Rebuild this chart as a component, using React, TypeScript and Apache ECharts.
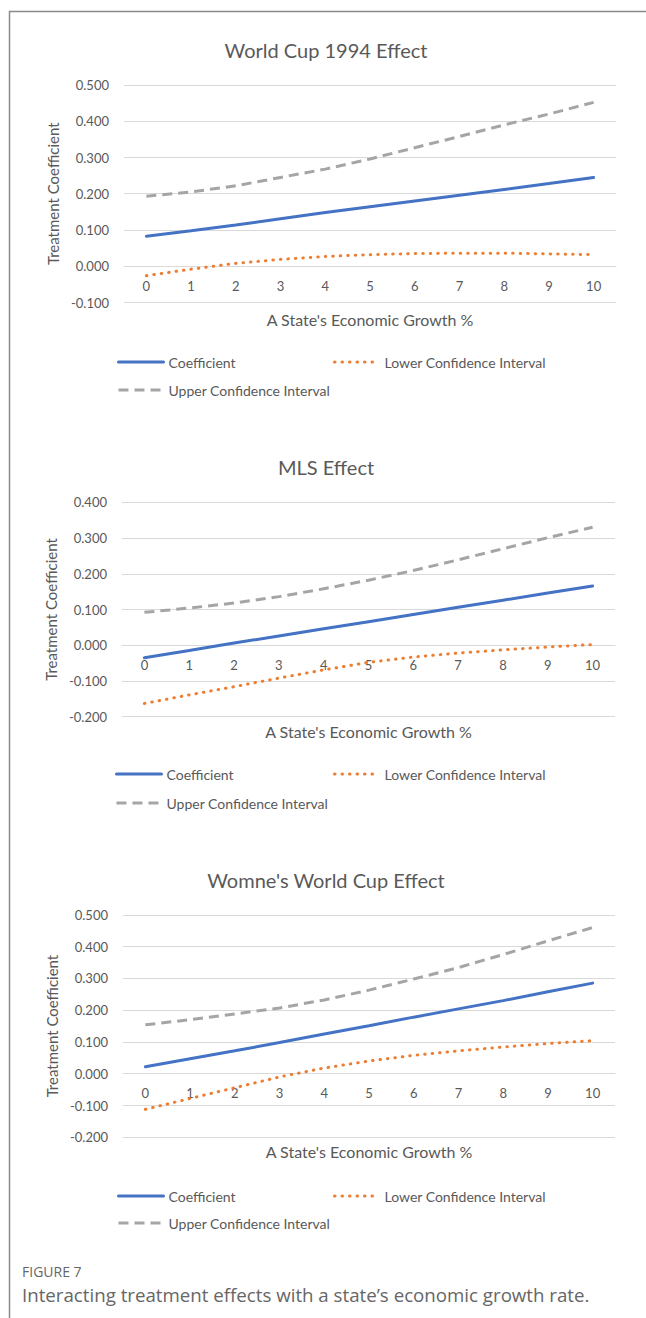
import React, { useEffect, useRef } from "react";
import * as echarts from "echarts";

const categories = ["0", "1", "2", "3", "4", "5", "6", "7", "8", "9", "10"];
const chartTitles = ["World Cup 1994 Effect", "MLS Effect", "Womne's World Cup Effect"];
const seriesNames = ["Coefficient", "Lower Confidence Interval", "Upper Confidence Interval"];

// World Cup 1994
const wc94Coef = [0.083, 0.098, 0.114, 0.131, 0.148, 0.164, 0.180, 0.196, 0.212, 0.228, 0.245];
const wc94Lower = [-0.026, -0.008, 0.008, 0.019, 0.027, 0.032, 0.035, 0.036, 0.036, 0.034, 0.032];
const wc94Upper = [0.193, 0.205, 0.222, 0.245, 0.268, 0.296, 0.327, 0.358, 0.390, 0.420, 0.452];

// MLS
const mlsCoef = [-0.035, -0.015, 0.006, 0.026, 0.046, 0.066, 0.086, 0.106, 0.126, 0.146, 0.166];
const mlsLower = [-0.163, -0.139, -0.116, -0.092, -0.069, -0.048, -0.033, -0.022, -0.013, -0.005, 0.002];
const mlsUpper = [0.092, 0.104, 0.118, 0.136, 0.158, 0.182, 0.209, 0.239, 0.270, 0.301, 0.330];

// Women's World Cup
const wwcCoef = [0.022, 0.047, 0.072, 0.098, 0.125, 0.151, 0.178, 0.204, 0.230, 0.258, 0.285];
const wwcLower = [-0.112, -0.078, -0.044, -0.010, 0.018, 0.040, 0.058, 0.072, 0.084, 0.095, 0.104];
const wwcUpper = [0.154, 0.170, 0.188, 0.207, 0.232, 0.263, 0.298, 0.334, 0.375, 0.418, 0.460];

const yMins = [-0.1, -0.2, -0.2];
const yMaxs = [0.5, 0.4, 0.5];
const yInterval = 0.1;

const allData = [
  [wc94Coef, wc94Lower, wc94Upper],
  [mlsCoef, mlsLower, mlsUpper],
  [wwcCoef, wwcLower, wwcUpper],
];

const xAxisName = "A State's Economic Growth %";
const yAxisName = "Treatment Coefficient";
const figureLabel = "FIGURE 7";
const captionText = "Interacting treatment effects with a state\u2019s economic growth rate.";

export default function App() {
  const ref = useRef<HTMLDivElement>(null);

  useEffect(() => {
    if (!ref.current) return;
    const chart = echarts.init(ref.current, undefined, { renderer: "svg" });

    const FONT = "Lato, 'Liberation Sans', sans-serif";
    const TXT = "#595959";
    const GRID = "#D9D9D9";
    const colors = ["#4472C4", "#ED7D31", "#A5A5A5"];
    const dashes: any[] = ["solid", [0.5, 7], [10, 6]];
    const caps = ["round", "round", "butt"];

    const grids = [
      { left: 124, top: 85, width: 492, height: 217.5 },
      { left: 122, top: 502.3, width: 493, height: 214.4 },
      { left: 123, top: 914.8, width: 492, height: 222.5 },
    ];
    // distance (px) from the grid bottom up to the value-0 line, so the
    // category axis sits on zero as in the original
    const zeroOffsets = grids.map(
      (g, i) => -(g.height * (0 - yMins[i])) / (yMaxs[i] - yMins[i])
    );
    const titleCY = [52, 469, 882];
    const xNameGap = [45.5, 78, 70];
    const legendRows = [
      [362, 390],
      [774, 803],
      [1196, 1223],
    ];
    const legendLeft = [117, 115, 117];
    const legendLeft2 = [333, 333, 333];

    const series: any[] = [];
    const legends: any[] = [];
    allData.forEach((group, gi) => {
      group.forEach((vals, si) => {
        series.push({
          type: "line",
          name: seriesNames[si],
          xAxisIndex: gi,
          yAxisIndex: gi,
          data: vals,
          symbol: "none",
          z: si === 0 ? 4 : 3,
          lineStyle: {
            color: colors[si],
            width: 3,
            type: dashes[si],
            cap: caps[si],
          },
          itemStyle: { color: colors[si] },
        });
      });
      const pos = [
        { left: legendLeft[gi], cy: legendRows[gi][0] },
        { left: legendLeft2[gi], cy: legendRows[gi][0] },
        { left: legendLeft[gi], cy: legendRows[gi][1] },
      ];
      pos.forEach((p, si) => {
        legends.push({
          data: [seriesNames[si]],
          left: p.left,
          top: p.cy - 7,
          padding: 0,
          itemWidth: 45,
          itemHeight: 14,
          selectedMode: false,
          itemStyle: { opacity: 0, borderWidth: 0 },
          lineStyle: { width: 3 },
          textStyle: { color: TXT, fontSize: 14, fontFamily: FONT },
        });
      });
    });

    chart.setOption({
      animation: false,
      backgroundColor: "#ffffff",
      title: chartTitles.map((t, i) => ({
        text: t,
        left: 326,
        top: titleCY[i] - 12,
        padding: 0,
        textAlign: "center",
        textStyle: { color: TXT, fontSize: 20, fontWeight: "normal", fontFamily: FONT },
      })),
      legend: legends,
      grid: grids,
      xAxis: grids.map((_, i) => ({
        type: "category",
        gridIndex: i,
        data: categories,
        boundaryGap: true,
        position: "bottom",
        offset: zeroOffsets[i],
        axisLine: { show: true, onZero: false, lineStyle: { color: GRID, width: 1 } },
        axisTick: { show: false },
        axisLabel: { color: TXT, fontSize: 13, fontFamily: FONT, margin: 13 },
        name: xAxisName,
        nameLocation: "middle",
        nameGap: xNameGap[i],
        nameTextStyle: { color: TXT, fontSize: 16, fontFamily: FONT },
        splitLine: { show: false },
      })),
      yAxis: grids.map((_, i) => ({
        type: "value",
        gridIndex: i,
        min: yMins[i],
        max: yMaxs[i],
        interval: yInterval,
        axisLine: { show: false },
        axisTick: { show: false },
        axisLabel: {
          color: TXT,
          fontSize: 13,
          fontFamily: FONT,
          margin: 15,
          formatter: (v: number) => v.toFixed(3),
        },
        splitLine: { show: true, lineStyle: { color: GRID, width: 1 } },
        name: yAxisName,
        nameLocation: "middle",
        nameGap: 60.5,
        nameTextStyle: { color: TXT, fontSize: 15, fontFamily: FONT },
      })),
      series,
      graphic: [
        {
          type: "line",
          shape: { x1: 9.5, y1: 11, x2: 9.5, y2: 1318 },
          style: { stroke: "#8a8a8a", lineWidth: 1.5 },
        },
        {
          type: "line",
          shape: { x1: 9, y1: 11.5, x2: 646, y2: 11.5 },
          style: { stroke: "#8a8a8a", lineWidth: 1.5 },
        },
        {
          type: "text",
          left: 22,
          top: 1264,
          style: {
            text: figureLabel,
            fill: "#666666",
            font: "14px 'Open Sans', sans-serif",
          },
        },
        {
          type: "text",
          left: 22,
          top: 1285,
          style: {
            text: captionText,
            fill: "#666666",
            font: "18.7px 'Open Sans', sans-serif",
          },
        },
      ],
    });

    return () => chart.dispose();
  }, []);

  return (
    <div
      ref={ref}
      style={{ position: "absolute", left: 0, top: 0, width: 646, height: 1318, background: "#fff" }}
    />
  );
}
